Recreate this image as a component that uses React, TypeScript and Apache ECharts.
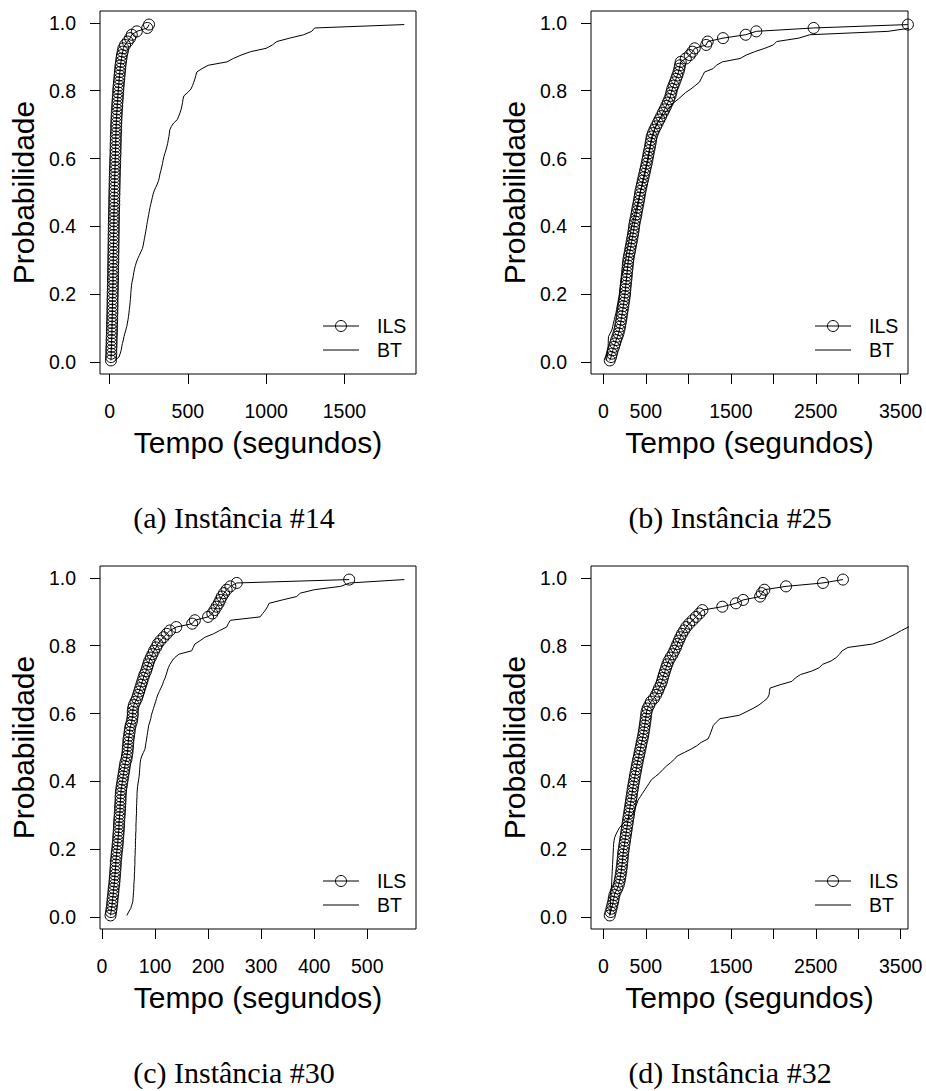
import React, { useEffect, useRef } from "react";
import * as echarts from "echarts";

// ---------- data ----------
const SERIES_NAMES = ["ILS", "BT"];
const CAPTIONS = ["(a) Instância #14", "(b) Instância #25", "(c) Instância #30", "(d) Instância #32"];
const X_TITLE = "Tempo (segundos)";
const Y_TITLE = "Probabilidade";
const N_RUNS = 100;

const Y_TICKS = [0, 0.2, 0.4, 0.6, 0.8, 1.0];
const X_TICKS_A = [0, 500, 1000, 1500];
const X_LABELS_A = [0, 500, 1000, 1500];
const X_TICKS_B = [0, 500, 1000, 1500, 2000, 2500, 3000, 3500];
const X_LABELS_B = [0, 500, 1500, 2500, 3500];
const X_TICKS_C = [0, 100, 200, 300, 400, 500];
const X_LABELS_C = [0, 100, 200, 300, 400, 500];
const X_TICKS_D = [0, 500, 1000, 1500, 2000, 2500, 3000, 3500];
const X_LABELS_D = [0, 500, 1500, 2500, 3500];

const X_RANGE_A = [-61, 1957];
const X_RANGE_B = [-146, 3586];
const X_RANGE_C = [-3.8, 592];
const X_RANGE_D = [-146, 3586];
const Y_RANGE = [-0.035, 1.035];

// sorted run times (seconds)
const ILS_A = [
  9, 10, 11, 11, 12, 13, 13, 14, 15, 15,
  16, 16, 17, 17, 18, 18, 19, 19, 19, 20,
  20, 21, 21, 22, 22, 22, 23, 23, 23, 24,
  24, 24, 25, 25, 25, 26, 26, 26, 27, 27,
  27, 28, 28, 28, 29, 29, 30, 30, 30, 31,
  31, 32, 32, 33, 33, 34, 34, 35, 36, 36,
  37, 38, 38, 39, 39, 40, 40, 41, 42, 42,
  43, 44, 45, 46, 48, 49, 50, 52, 53, 55,
  56, 58, 60, 62, 64, 66, 68, 70, 73, 76,
  79, 84, 88, 99, 116, 131, 142, 174, 241, 252,
];
const BT_A = [
  35, 60, 68, 74, 78, 82, 88, 92, 98, 104,
  110, 114, 118, 121, 124, 126, 129, 131, 133, 135,
  136, 138, 140, 143, 148, 152, 155, 160, 165, 172,
  180, 190, 200, 210, 215, 219, 223, 227, 231, 235,
  238, 242, 246, 250, 254, 258, 263, 268, 273, 278,
  285, 295, 305, 313, 318, 322, 328, 333, 338, 342,
  347, 353, 360, 366, 371, 375, 379, 382, 385, 395,
  410, 433, 442, 450, 457, 462, 466, 469, 475, 500,
  520, 530, 538, 545, 551, 557, 590, 630, 750, 790,
  840, 900, 1000, 1040, 1068, 1150, 1240, 1291, 1310, 1882,
];
const ILS_B = [
  75, 90, 100, 110, 125, 138, 150, 165, 178, 188,
  196, 203, 210, 216, 222, 228, 234, 240, 246, 252,
  256, 259, 263, 267, 271, 275, 279, 283, 287, 291,
  296, 303, 311, 318, 326, 333, 340, 347, 354, 360,
  364, 372, 380, 388, 395, 402, 410, 417, 424, 431,
  437, 446, 455, 464, 473, 482, 491, 500, 509, 517,
  524, 532, 540, 548, 555, 562, 569, 583, 600, 620,
  640, 660, 680, 700, 720, 740, 758, 775, 790, 800,
  810, 825, 840, 855, 870, 884, 894, 902, 910, 970,
  1016, 1047, 1075, 1210, 1228, 1408, 1675, 1800, 2475, 3585,
];
const BT_B = [
  35, 42, 48, 52, 55, 57, 58, 60, 80, 100,
  110, 118, 128, 138, 148, 155, 162, 170, 177, 185,
  190, 195, 200, 206, 212, 218, 228, 238, 248, 257,
  265, 272, 277, 285, 292, 300, 307, 315, 322, 330,
  338, 348, 358, 368, 378, 390, 400, 410, 420, 430,
  440, 450, 460, 470, 480, 490, 498, 506, 516, 525,
  532, 538, 545, 552, 560, 569, 580, 592, 603, 615,
  630, 660, 695, 728, 760, 795, 830, 880, 925, 970,
  1030, 1080, 1130, 1150, 1170, 1190, 1290, 1330, 1400, 1610,
  1680, 1780, 1900, 2000, 2040, 2300, 2430, 3350, 3620, 3900,
];
const ILS_C = [
  16, 17, 18, 19, 19.5, 20, 21, 21.5, 22, 23,
  23.5, 24, 24.5, 25, 25.5, 26, 26, 27, 27.5, 28,
  29, 29.5, 30, 30.5, 31, 31.5, 32, 32, 32.5, 33,
  33.5, 34, 34, 34.5, 35, 35, 35.5, 36, 37, 38,
  39, 40, 41, 42, 43, 44, 46, 47, 48, 48.5,
  49, 49.5, 50, 51, 52, 52.5, 54, 56, 57, 58,
  58, 58.5, 60, 63, 66, 68, 70, 72, 74, 76,
  78, 80, 83, 85, 87, 89, 92, 95, 98, 102,
  105, 110, 116, 122, 128, 140, 170, 175, 200, 208,
  212, 216, 220, 223, 226, 230, 235, 242, 254, 466,
];
const BT_C = [
  47, 50, 54, 56, 58, 58.5, 59, 59.5, 60, 60,
  60.5, 61, 61, 61.5, 61.5, 62, 62, 62, 62.5, 62.5,
  63, 63, 63, 63.5, 63.5, 64, 64, 64, 64.5, 64.5,
  65, 65, 65, 65.5, 65.5, 66, 66, 66.5, 67, 68,
  69, 70, 70.5, 71, 71.5, 72, 73, 75, 78, 81,
  82, 83, 84, 85, 86, 87, 88, 90, 92, 93,
  95, 97, 99, 101, 103, 105, 108, 111, 114, 116,
  119, 121, 123, 125, 128, 132, 137, 145, 169, 172,
  175, 185, 194, 210, 222, 235, 238, 242, 298, 303,
  308, 312, 315, 340, 367, 374, 400, 450, 467, 570,
];
const ILS_D = [
  75, 85, 95, 105, 115, 122, 130, 145, 165, 180,
  190, 198, 204, 210, 215, 220, 224, 228, 231, 236,
  242, 248, 254, 260, 266, 272, 278, 284, 290, 296,
  302, 308, 314, 320, 326, 332, 338, 344, 350, 357,
  364, 371, 378, 386, 393, 401, 409, 418, 426, 435,
  443, 451, 460, 468, 475, 481, 487, 493, 498, 503,
  508, 520, 540, 560, 595, 620, 640, 655, 675, 690,
  700, 712, 725, 738, 752, 768, 790, 815, 835, 855,
  870, 888, 905, 925, 950, 975, 1010, 1050, 1090, 1130,
  1165, 1400, 1560, 1645, 1845, 1865, 1895, 2150, 2585, 2820,
];
// runs beyond the plotted time window are not shown
const BT_D = [
  75, 78, 80, 82, 84, 86, 88, 90, 93, 96,
  98, 100, 102, 104, 106, 108, 110, 112, 114, 116,
  118, 120, 125, 133, 150, 170, 193, 230, 270, 310,
  349, 365, 380, 395, 408, 435, 460, 487, 513, 540,
  565, 615, 663, 700, 741, 790, 835, 870, 950, 1030,
  1100, 1150, 1230, 1250, 1265, 1280, 1294, 1330, 1373, 1600,
  1680, 1760, 1830, 1882, 1930, 1950, 1955, 1961, 2080, 2220,
  2260, 2320, 2450, 2540, 2580, 2680, 2740, 2780, 2810, 2880,
  3170, 3280, 3360, 3440, 3510, 3590, 3680, 3760,
];

// ---------- chart ----------
const SANS = "'Liberation Sans', Arial, Helvetica, sans-serif";
const SERIF = "'Liberation Serif', 'Times New Roman', serif";

const toEcdf = (times: number[]) => times.map((t, i) => [t, (i + 0.5) / N_RUNS]);

const PANELS = [
  { ils: ILS_A, bt: BT_A, xr: X_RANGE_A, ticks: X_TICKS_A, labels: X_LABELS_A },
  { ils: ILS_B, bt: BT_B, xr: X_RANGE_B, ticks: X_TICKS_B, labels: X_LABELS_B },
  { ils: ILS_C, bt: BT_C, xr: X_RANGE_C, ticks: X_TICKS_C, labels: X_LABELS_C },
  { ils: ILS_D, bt: BT_D, xr: X_RANGE_D, ticks: X_TICKS_D, labels: X_LABELS_D },
];

// layout
const BOX = [
  { left: 100, top: 11, width: 316 },
  { left: 591, top: 11, width: 317 },
  { left: 100, top: 566, width: 316 },
  { left: 591, top: 566, width: 317 },
];
const BOX_H = 363;
const CAPTION_POS = [
  [234, 517],
  [730, 517],
  [234, 1072],
  [730, 1072],
];

function buildOption() {
  const grid: any[] = [];
  const xAxis: any[] = [];
  const yAxis: any[] = [];
  const series: any[] = [];
  const graphic: any[] = [];

  PANELS.forEach((p, k) => {
    const b = BOX[k];
    grid.push({
      left: b.left,
      top: b.top,
      width: b.width,
      height: BOX_H,
      show: true,
      borderColor: "#000",
      borderWidth: 1,
      backgroundColor: "transparent",
      containLabel: false,
    });
    xAxis.push({
      type: "value",
      gridIndex: k,
      min: p.xr[0],
      max: p.xr[1],
      position: "bottom",
      axisLine: { show: false, onZero: false },
      splitLine: { show: false },
      axisTick: {
        show: true,
        inside: false,
        length: 10,
        lineStyle: { color: "#000", width: 1 },
        customValues: p.ticks,
      },
      axisLabel: {
        show: true,
        customValues: p.labels,
        margin: 27,
        color: "#000",
        fontSize: 19.5,
        fontFamily: SANS,
        formatter: (v: number) => String(v),
      },
    });
    yAxis.push({
      type: "value",
      gridIndex: k,
      min: Y_RANGE[0],
      max: Y_RANGE[1],
      position: "left",
      axisLine: { show: false, onZero: false },
      splitLine: { show: false },
      axisTick: {
        show: true,
        inside: false,
        length: 10,
        lineStyle: { color: "#000", width: 1 },
        customValues: Y_TICKS,
      },
      axisLabel: {
        show: true,
        customValues: Y_TICKS,
        margin: 24,
        color: "#000",
        fontSize: 19.5,
        fontFamily: SANS,
        formatter: (v: number) => v.toFixed(1),
      },
    });
    series.push({
      name: SERIES_NAMES[0],
      type: "line",
      xAxisIndex: k,
      yAxisIndex: k,
      data: toEcdf(p.ils),
      symbol: "circle",
      symbolSize: 11,
      showSymbol: true,
      showAllSymbol: true,
      clip: true,
      silent: true,
      lineStyle: { color: "#000", width: 1 },
      itemStyle: { color: "rgba(0,0,0,0)", borderColor: "#000", borderWidth: 1 },
      z: 3,
    });
    series.push({
      name: SERIES_NAMES[1],
      type: "line",
      xAxisIndex: k,
      yAxisIndex: k,
      data: toEcdf(p.bt),
      symbol: "none",
      showSymbol: false,
      clip: true,
      silent: true,
      lineStyle: { color: "#000", width: 1 },
      itemStyle: { color: "#000" },
      z: 2,
    });

    // titles
    const cx = b.left + b.width / 2;
    graphic.push({
      type: "text",
      x: b.left - 76.4,
      y: b.top + BOX_H / 2,
      rotation: Math.PI / 2,
      style: {
        text: Y_TITLE,
        fontSize: 30,
        fontFamily: SANS,
        fill: "#000",
        textAlign: "center",
        textVerticalAlign: "middle",
      },
    });
    graphic.push({
      type: "text",
      x: cx,
      y: b.top + 431,
      style: {
        text: X_TITLE,
        fontSize: 30,
        fontFamily: SANS,
        fill: "#000",
        textAlign: "center",
        textVerticalAlign: "middle",
      },
    });
    graphic.push({
      type: "text",
      x: CAPTION_POS[k][0],
      y: CAPTION_POS[k][1],
      style: {
        text: CAPTIONS[k],
        fontSize: 30,
        fontFamily: SERIF,
        fill: "#000",
        textAlign: "center",
        textVerticalAlign: "middle",
      },
    });

    // legend (no box)
    const lx = b.left + b.width - 93;
    const ly = b.top + 315;
    graphic.push({
      type: "line",
      shape: { x1: lx, y1: ly, x2: lx + 36, y2: ly },
      style: { stroke: "#000", lineWidth: 1 },
    });
    graphic.push({
      type: "circle",
      shape: { cx: lx + 18, cy: ly, r: 5.5 },
      style: { fill: "none", stroke: "#000", lineWidth: 1 },
    });
    graphic.push({
      type: "text",
      x: lx + 54,
      y: ly,
      style: {
        text: SERIES_NAMES[0],
        fontSize: 19.5,
        fontFamily: SANS,
        fill: "#000",
        textAlign: "left",
        textVerticalAlign: "middle",
      },
    });
    graphic.push({
      type: "line",
      shape: { x1: lx, y1: ly + 24, x2: lx + 36, y2: ly + 24 },
      style: { stroke: "#000", lineWidth: 1 },
    });
    graphic.push({
      type: "text",
      x: lx + 54,
      y: ly + 24,
      style: {
        text: SERIES_NAMES[1],
        fontSize: 19.5,
        fontFamily: SANS,
        fill: "#000",
        textAlign: "left",
        textVerticalAlign: "middle",
      },
    });
  });

  return {
    animation: false,
    backgroundColor: "#fff",
    grid,
    xAxis,
    yAxis,
    series,
    graphic,
  };
}

export default function App() {
  const ref = useRef<HTMLDivElement>(null);
  useEffect(() => {
    document.body.style.margin = "0";
    if (!ref.current) return;
    const chart = echarts.init(ref.current, undefined, { renderer: "svg" });
    chart.setOption(buildOption() as any);
    return () => chart.dispose();
  }, []);
  return <div ref={ref} style={{ width: 926, height: 1091 }} />;
}
